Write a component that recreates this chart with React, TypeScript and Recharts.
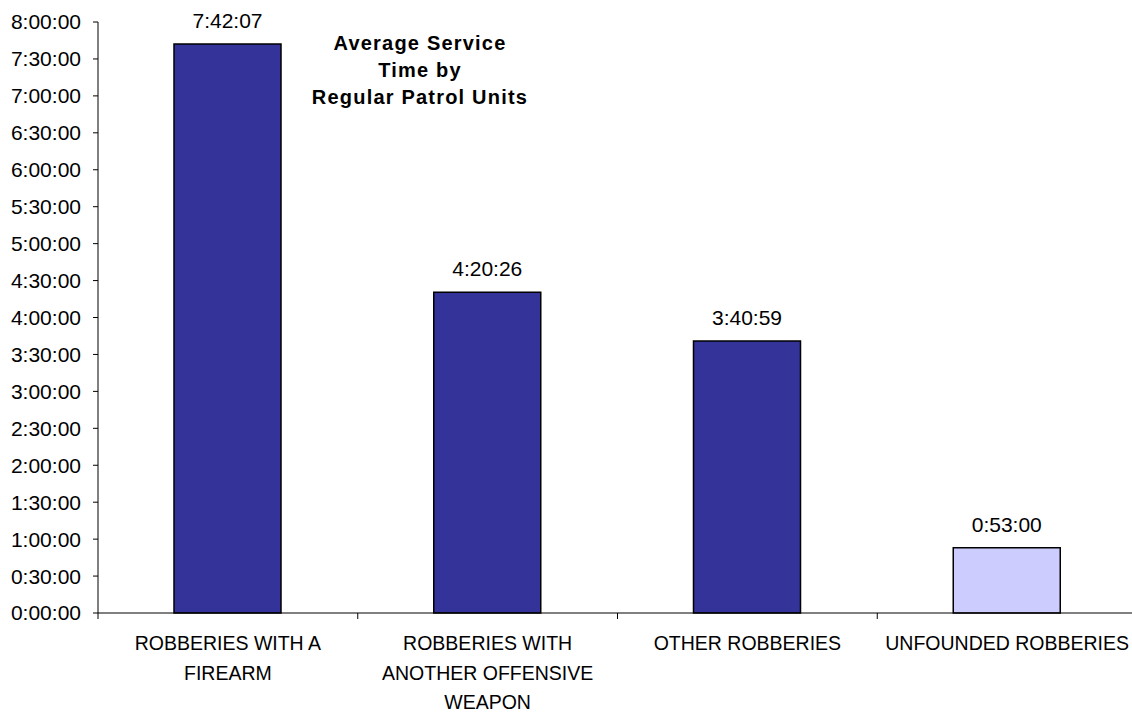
import React from 'react';
import { BarChart, Bar, XAxis, YAxis, Cell, LabelList } from 'recharts';

const categories = [
  'ROBBERIES WITH A FIREARM',
  'ROBBERIES WITH ANOTHER OFFENSIVE WEAPON',
  'OTHER ROBBERIES',
  'UNFOUNDED ROBBERIES',
];
const tickLines = [
  ['ROBBERIES WITH A', 'FIREARM'],
  ['ROBBERIES WITH', 'ANOTHER OFFENSIVE', 'WEAPON'],
  ['OTHER ROBBERIES'],
  ['UNFOUNDED ROBBERIES'],
];
const serviceTimes = ['7:42:07', '4:20:26', '3:40:59', '0:53:00'];
const barColors = ['#333399', '#333399', '#333399', '#CCCCFF'];
const yTicks = [0, 1800, 3600, 5400, 7200, 9000, 10800, 12600, 14400, 16200, 18000, 19800, 21600, 23400, 25200, 27000, 28800];
const titleLines = ['Average Service', 'Time by', 'Regular Patrol Units'];

const FONT = '"Liberation Sans", Arial, sans-serif';
const CHART_W = 1140;
const Y_W = 98;
const MARGIN = { top: 22, right: 3, left: 0, bottom: 0 };
const TICK_SIZE = 6;
const TICK_MARGIN = 2;
const HALF_BAND = (CHART_W - MARGIN.left - MARGIN.right - Y_W) / categories.length / 2;

const toSeconds = (s: string) => {
  const [h, m, sec] = s.split(':').map(Number);
  return h * 3600 + m * 60 + sec;
};
const fmt = (v: number) => {
  const h = Math.floor(v / 3600);
  const m = Math.floor((v % 3600) / 60);
  const s = v % 60;
  return `${h}:${String(m).padStart(2, '0')}:${String(s).padStart(2, '0')}`;
};

const data = categories.map((name, i) => ({
  name,
  seconds: toSeconds(serviceTimes[i]),
  label: serviceTimes[i],
}));

// category label plus the separator tick on the left edge of its band
const CatTick = (props: any) => {
  const { x, y, payload } = props;
  const idx = categories.indexOf(payload.value);
  const lines = tickLines[idx] || [payload.value];
  const axisY = y - TICK_SIZE - TICK_MARGIN;
  const sx = x - HALF_BAND;
  return (
    <g>
      <line x1={sx} y1={axisY} x2={sx} y2={axisY + 6} stroke="#000" />
      <text x={x} y={y + 29} textAnchor="middle" fontSize={19.5} fill="#000" fontFamily={FONT}>
        {lines.map((l, i) => (
          <tspan key={i} x={x} dy={i === 0 ? 0 : 29.5}>{l}</tspan>
        ))}
      </text>
    </g>
  );
};

export default function App() {
  return (
    <div style={{ position: 'fixed', left: 0, top: 0, width: 1132, height: 713, overflow: 'hidden', background: '#fff' }}>
      <BarChart
        width={CHART_W}
        height={713}
        data={data}
        margin={MARGIN}
        style={{ fontFamily: FONT }}
      >
        <XAxis
          dataKey="name"
          interval={0}
          tickLine={false}
          tickSize={TICK_SIZE}
          tickMargin={TICK_MARGIN}
          axisLine={{ stroke: '#000' }}
          height={100}
          tick={<CatTick />}
        />
        <YAxis
          domain={[0, 28800]}
          ticks={yTicks}
          interval={0}
          tickFormatter={fmt}
          width={Y_W}
          tickSize={5}
          tickMargin={12}
          axisLine={{ stroke: '#000' }}
          tickLine={{ stroke: '#000' }}
          tick={{ fontSize: 21, fill: '#000', fontFamily: FONT }}
        />
        <Bar dataKey="seconds" barSize={107} stroke="#000" strokeWidth={1.5} isAnimationActive={false}>
          {data.map((d, i) => (
            <Cell key={d.name} fill={barColors[i]} />
          ))}
          <LabelList dataKey="label" position="top" offset={16} fontSize={21} fill="#000" fontFamily={FONT} />
        </Bar>
      </BarChart>
      <div
        style={{
          position: 'absolute',
          left: 300,
          top: 30,
          width: 240,
          textAlign: 'center',
          fontFamily: FONT,
          fontWeight: 'bold',
          fontSize: 20,
          letterSpacing: 1.2,
          lineHeight: '27px',
          color: '#000',
        }}
      >
        {titleLines.map((t) => (
          <div key={t}>{t}</div>
        ))}
      </div>
    </div>
  );
}
